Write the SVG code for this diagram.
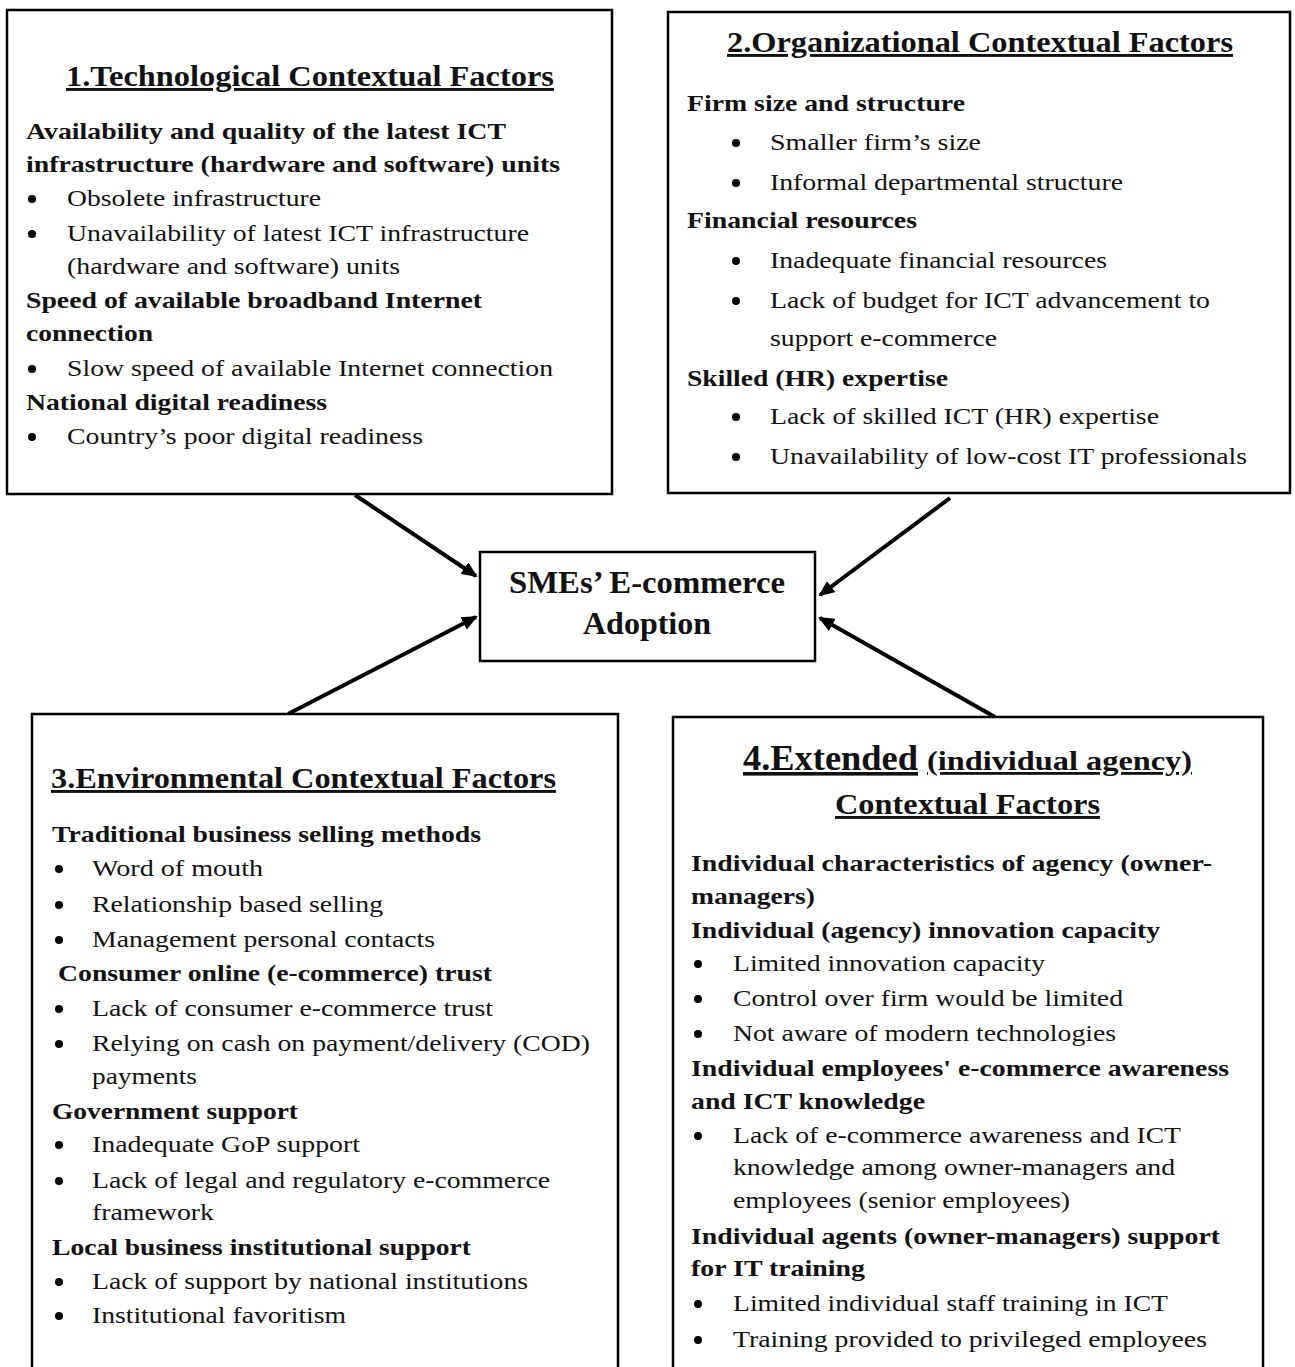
<svg xmlns="http://www.w3.org/2000/svg" width="1295" height="1367" viewBox="0 0 1295 1367" font-family="'Liberation Serif', 'Times New Roman', Times, serif">
<style>
.box{fill:#fff;stroke:#000;stroke-width:2.5}
text{font-family:'Liberation Serif','Times New Roman',Times,serif;fill:#111}
.h{font-weight:bold;font-size:29px;text-decoration:underline}
.b{font-weight:bold;font-size:23px}
.r{font-size:24px}
.c{font-weight:bold;font-size:31px}
.bul{fill:#000}
.conn{stroke:#000;stroke-width:4;fill:none}
</style>
<defs>
<marker id="ah" markerUnits="userSpaceOnUse" viewBox="0 0 16 14" refX="14" refY="7" markerWidth="16" markerHeight="14" orient="auto">
<path d="M0,0 L16,7 L0,14 z" fill="#000"/>
</marker>
</defs>
<rect width="1295" height="1367" fill="#fff"/>

<g id="connectors">
<line class="conn" x1="355" y1="495" x2="476" y2="576" marker-end="url(#ah)"/>
<line class="conn" x1="950" y1="498" x2="820" y2="595" marker-end="url(#ah)"/>
<line class="conn" x1="288" y1="714" x2="476" y2="617" marker-end="url(#ah)"/>
<line class="conn" x1="995" y1="717" x2="820" y2="618" marker-end="url(#ah)"/>
</g>

<g id="node-tech">
<rect class="box" x="7" y="10" width="605" height="484"/>
<text class="h" x="66" y="86" textLength="488" lengthAdjust="spacingAndGlyphs">1.Technological Contextual Factors</text>
<text class="b" x="26" y="139" textLength="480" lengthAdjust="spacingAndGlyphs">Availability and quality of the latest ICT</text>
<text class="b" x="26" y="172" textLength="534" lengthAdjust="spacingAndGlyphs">infrastructure (hardware and software) units</text>
<circle class="bul" cx="32" cy="199" r="4"/>
<text class="r" x="67" y="206" textLength="254" lengthAdjust="spacingAndGlyphs">Obsolete infrastructure</text>
<circle class="bul" cx="32" cy="234" r="4"/>
<text class="r" x="67" y="241" textLength="462" lengthAdjust="spacingAndGlyphs">Unavailability of latest ICT infrastructure</text>
<text class="r" x="67" y="274" textLength="333" lengthAdjust="spacingAndGlyphs">(hardware and software) units</text>
<text class="b" x="26" y="308" textLength="456" lengthAdjust="spacingAndGlyphs">Speed of available broadband Internet</text>
<text class="b" x="26" y="341" textLength="127" lengthAdjust="spacingAndGlyphs">connection</text>
<circle class="bul" cx="32" cy="369" r="4"/>
<text class="r" x="67" y="376" textLength="486" lengthAdjust="spacingAndGlyphs">Slow speed of available Internet connection</text>
<text class="b" x="26" y="410" textLength="301" lengthAdjust="spacingAndGlyphs">National digital readiness</text>
<circle class="bul" cx="32" cy="437" r="4"/>
<text class="r" x="67" y="444" textLength="356" lengthAdjust="spacingAndGlyphs">Country’s poor digital readiness</text>
</g>

<g id="node-org">
<rect class="box" x="668" y="12" width="622" height="481"/>
<text class="h" x="727" y="52" textLength="506" lengthAdjust="spacingAndGlyphs">2.Organizational Contextual Factors</text>
<text class="b" x="687" y="111" textLength="278" lengthAdjust="spacingAndGlyphs">Firm size and structure</text>
<circle class="bul" cx="736" cy="143" r="4"/>
<text class="r" x="770" y="150" textLength="211" lengthAdjust="spacingAndGlyphs">Smaller firm’s size</text>
<circle class="bul" cx="736" cy="183" r="4"/>
<text class="r" x="770" y="190" textLength="353" lengthAdjust="spacingAndGlyphs">Informal departmental structure</text>
<text class="b" x="687" y="228" textLength="230" lengthAdjust="spacingAndGlyphs">Financial resources</text>
<circle class="bul" cx="736" cy="261" r="4"/>
<text class="r" x="770" y="268" textLength="337" lengthAdjust="spacingAndGlyphs">Inadequate financial resources</text>
<circle class="bul" cx="736" cy="301" r="4"/>
<text class="r" x="770" y="308" textLength="440" lengthAdjust="spacingAndGlyphs">Lack of budget for ICT advancement to</text>
<text class="r" x="770" y="346" textLength="227" lengthAdjust="spacingAndGlyphs">support e-commerce</text>
<text class="b" x="687" y="386" textLength="261" lengthAdjust="spacingAndGlyphs">Skilled (HR) expertise</text>
<circle class="bul" cx="736" cy="417" r="4"/>
<text class="r" x="770" y="424" textLength="389" lengthAdjust="spacingAndGlyphs">Lack of skilled ICT (HR) expertise</text>
<circle class="bul" cx="736" cy="457" r="4"/>
<text class="r" x="770" y="464" textLength="477" lengthAdjust="spacingAndGlyphs">Unavailability of low-cost IT professionals</text>
</g>

<g id="node-center">
<rect class="box" x="480" y="552" width="335" height="109"/>
<text class="c" x="509" y="593" textLength="276" lengthAdjust="spacingAndGlyphs">SMEs’ E-commerce</text>
<text class="c" x="583" y="634" textLength="128" lengthAdjust="spacingAndGlyphs">Adoption</text>
</g>

<g id="node-env">
<rect class="box" x="32" y="714" width="586" height="670"/>
<text class="h" x="51" y="788" textLength="505" lengthAdjust="spacingAndGlyphs">3.Environmental Contextual Factors</text>
<text class="b" x="52" y="842" textLength="429" lengthAdjust="spacingAndGlyphs">Traditional business selling methods</text>
<circle class="bul" cx="59" cy="869" r="4"/>
<text class="r" x="92" y="876" textLength="171" lengthAdjust="spacingAndGlyphs">Word of mouth</text>
<circle class="bul" cx="59" cy="905" r="4"/>
<text class="r" x="92" y="912" textLength="291" lengthAdjust="spacingAndGlyphs">Relationship based selling</text>
<circle class="bul" cx="59" cy="940" r="4"/>
<text class="r" x="92" y="947" textLength="343" lengthAdjust="spacingAndGlyphs">Management personal contacts</text>
<text class="b" x="58" y="981" textLength="434" lengthAdjust="spacingAndGlyphs">Consumer online (e-commerce) trust</text>
<circle class="bul" cx="59" cy="1009" r="4"/>
<text class="r" x="92" y="1016" textLength="401" lengthAdjust="spacingAndGlyphs">Lack of consumer e-commerce trust</text>
<circle class="bul" cx="59" cy="1044" r="4"/>
<text class="r" x="92" y="1051" textLength="498" lengthAdjust="spacingAndGlyphs">Relying on cash on payment/delivery (COD)</text>
<text class="r" x="92" y="1084" textLength="105" lengthAdjust="spacingAndGlyphs">payments</text>
<text class="b" x="52" y="1119" textLength="246" lengthAdjust="spacingAndGlyphs">Government support</text>
<circle class="bul" cx="59" cy="1145" r="4"/>
<text class="r" x="92" y="1152" textLength="268" lengthAdjust="spacingAndGlyphs">Inadequate GoP support</text>
<circle class="bul" cx="59" cy="1181" r="4"/>
<text class="r" x="92" y="1188" textLength="458" lengthAdjust="spacingAndGlyphs">Lack of legal and regulatory e-commerce</text>
<text class="r" x="92" y="1220" textLength="122" lengthAdjust="spacingAndGlyphs">framework</text>
<text class="b" x="52" y="1255" textLength="419" lengthAdjust="spacingAndGlyphs">Local business institutional support</text>
<circle class="bul" cx="59" cy="1282" r="4"/>
<text class="r" x="92" y="1289" textLength="436" lengthAdjust="spacingAndGlyphs">Lack of support by national institutions</text>
<circle class="bul" cx="59" cy="1316" r="4"/>
<text class="r" x="92" y="1323" textLength="254" lengthAdjust="spacingAndGlyphs">Institutional favoritism</text>
</g>

<g id="node-ext">
<rect class="box" x="673" y="717" width="590" height="670"/>
<text x="743" y="770" style="font-weight:bold;text-decoration:underline"><tspan font-size="36" textLength="175" lengthAdjust="spacingAndGlyphs">4.Extended</tspan><tspan font-size="28" dx="9" textLength="265" lengthAdjust="spacingAndGlyphs">(individual agency)</tspan></text>
<text class="h" x="835" y="814" textLength="265" lengthAdjust="spacingAndGlyphs">Contextual Factors</text>
<text class="b" x="691" y="871" textLength="521" lengthAdjust="spacingAndGlyphs">Individual characteristics of agency (owner-</text>
<text class="b" x="691" y="904" textLength="124" lengthAdjust="spacingAndGlyphs">managers)</text>
<text class="b" x="691" y="938" textLength="469" lengthAdjust="spacingAndGlyphs">Individual (agency) innovation capacity</text>
<circle class="bul" cx="698" cy="964" r="4"/>
<text class="r" x="733" y="971" textLength="312" lengthAdjust="spacingAndGlyphs">Limited innovation capacity</text>
<circle class="bul" cx="698" cy="999" r="4"/>
<text class="r" x="733" y="1006" textLength="390" lengthAdjust="spacingAndGlyphs">Control over firm would be limited</text>
<circle class="bul" cx="698" cy="1034" r="4"/>
<text class="r" x="733" y="1041" textLength="383" lengthAdjust="spacingAndGlyphs">Not aware of modern technologies</text>
<text class="b" x="691" y="1076" textLength="538" lengthAdjust="spacingAndGlyphs">Individual employees' e-commerce awareness</text>
<text class="b" x="691" y="1109" textLength="234" lengthAdjust="spacingAndGlyphs">and ICT knowledge</text>
<circle class="bul" cx="698" cy="1136" r="4"/>
<text class="r" x="733" y="1143" textLength="448" lengthAdjust="spacingAndGlyphs">Lack of e-commerce awareness and ICT</text>
<text class="r" x="733" y="1175" textLength="442" lengthAdjust="spacingAndGlyphs">knowledge among owner-managers and</text>
<text class="r" x="733" y="1208" textLength="337" lengthAdjust="spacingAndGlyphs">employees (senior employees)</text>
<text class="b" x="691" y="1244" textLength="529" lengthAdjust="spacingAndGlyphs">Individual agents (owner-managers) support</text>
<text class="b" x="691" y="1276" textLength="174" lengthAdjust="spacingAndGlyphs">for IT training</text>
<circle class="bul" cx="698" cy="1304" r="4"/>
<text class="r" x="733" y="1311" textLength="435" lengthAdjust="spacingAndGlyphs">Limited individual staff training in ICT</text>
<circle class="bul" cx="698" cy="1340" r="4"/>
<text class="r" x="733" y="1347" textLength="474" lengthAdjust="spacingAndGlyphs">Training provided to privileged employees</text>
</g>
</svg>
